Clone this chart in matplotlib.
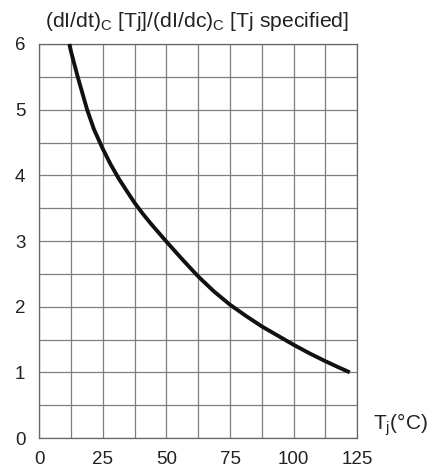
import numpy as np
import matplotlib.pyplot as plt

plt.rcParams['font.family'] = ['Liberation Sans', 'DejaVu Sans']
plt.rcParams['mathtext.fontset'] = 'custom'
plt.rcParams['mathtext.rm'] = 'Liberation Sans'

# values
tj = [11.8, 12.5, 15.1, 18.8, 21.5, 25, 28, 31.25, 34.5, 37.5, 40.6, 43.75, 50, 56.25,
      62.5, 68.75, 75, 81.25, 87.5, 93.75, 100, 106.25, 112.5, 117.5, 122.1]
ratio = [6.0, 5.88, 5.5, 5.0, 4.70, 4.40, 4.17, 3.95, 3.755, 3.58, 3.42, 3.27, 2.99, 2.72,
         2.46, 2.23, 2.03, 1.86, 1.70, 1.56, 1.42, 1.29, 1.17, 1.08, 1.0]

xticks = [0, 25, 50, 75, 100, 125]
yticks = [0, 1, 2, 3, 4, 5, 6]

grid_col = '#7f7f7f'

fig = plt.figure(figsize=(4.33, 4.71), dpi=100)
ax = fig.add_axes([0.0908, 0.070, 0.734, 0.8366])

ax.plot(tj, ratio, color='#111111', lw=2.8, clip_on=False, solid_capstyle='butt',
        solid_joinstyle='round', zorder=3)

ax.set_xlim(0, 125)
ax.set_ylim(0, 6)
ax.set_xticks(xticks)
ax.set_yticks(yticks)
ax.set_xticks(np.arange(0, 126, 12.5), minor=True)
ax.set_yticks(np.arange(0, 6.01, 0.5), minor=True)
ax.grid(True, which='both', color=grid_col, lw=0.9)
ax.tick_params(which='both', length=0, labelsize=13.5, colors='#222222')
ax.tick_params(axis='x', pad=9)
ax.tick_params(axis='y', pad=10)
for s in ax.spines.values():
    s.set_color('#666666')
    s.set_linewidth(0.9)

fig.text(0.104, 0.954, r'(dI/dt)$_\mathregular{C}$ [Tj]/(dI/dc)$_\mathregular{C}$ [Tj specified]',
         fontsize=15.2, color='#222222', ha='left', va='center')
fig.text(0.861, 0.098, r'T$_\mathregular{j}$(°C)', fontsize=15, color='#222222',
         ha='left', va='center')

fig.savefig('out.png', dpi=100)
